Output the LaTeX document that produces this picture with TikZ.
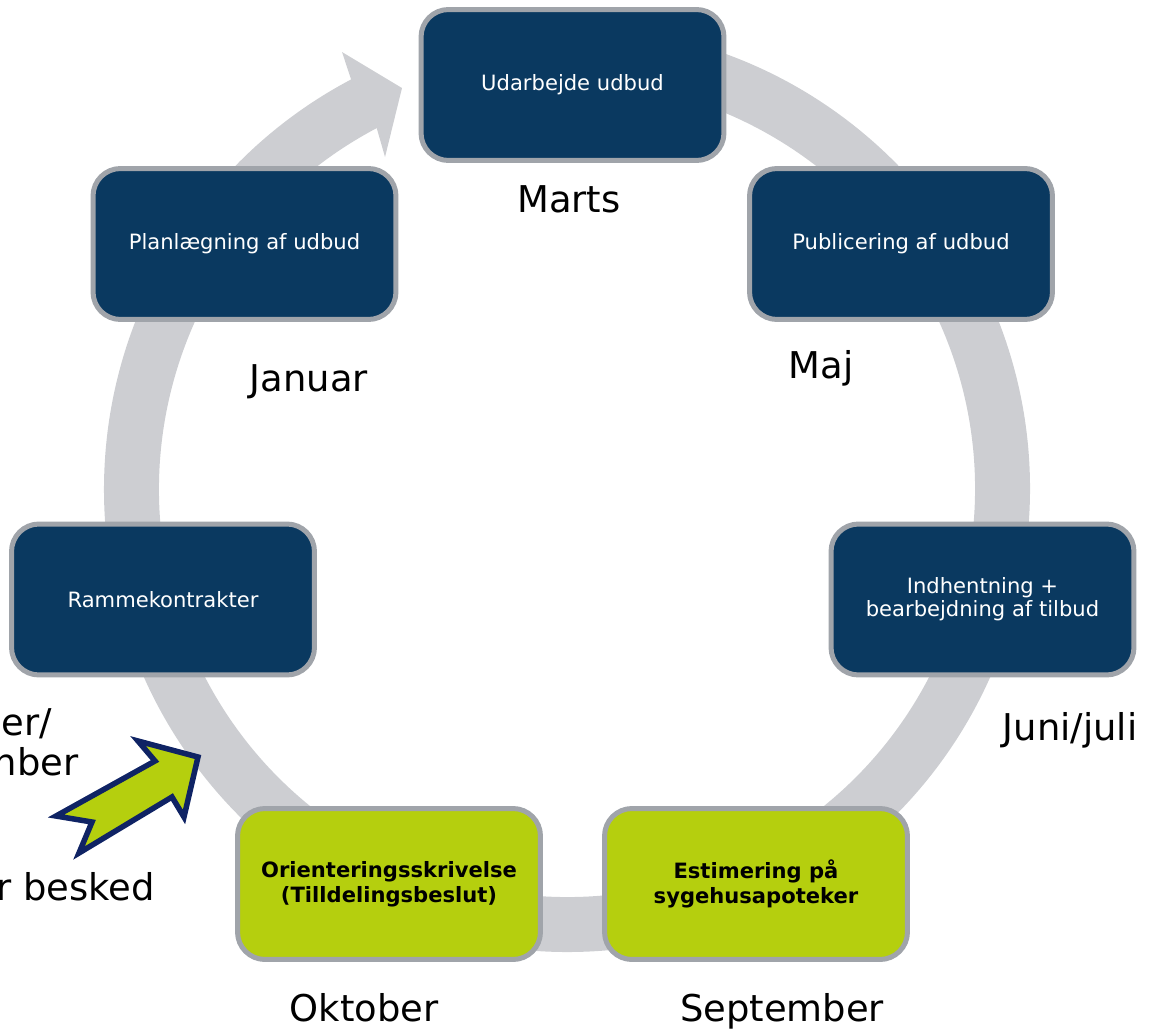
\documentclass[tikz,border=0pt]{standalone}
\usepackage{fontspec}
\setmainfont{DejaVu Sans}
\definecolor{ringgrey}{RGB}{205,206,210}
\definecolor{boxnavy}{RGB}{10,57,96}
\definecolor{boxgreen}{RGB}{181,207,14}
\definecolor{edgegrey}{RGB}{160,164,170}
\definecolor{arrownavy}{RGB}{15,35,100}
\tikzset{
  phase/.style={rectangle,rounded corners=0.55cm,draw=edgegrey,line width=0.1cm,
    minimum width=6.06cm,minimum height=3.02cm,align=center},
  navybox/.style={phase,fill=boxnavy,text=white,font=\fontsize{12}{13}\selectfont},
  greenbox/.style={phase,fill=boxgreen,text=black,font=\fontsize{12}{14}\selectfont\bfseries},
  month/.style={inner sep=0pt,font=\fontsize{21}{25}\selectfont}
}

\begin{document}
\begin{tikzpicture}[x=0.02cm,y=0.02cm]
    \useasboundingbox (0,0) rectangle (1149,-1030);
    % ring with arrow head
    \begin{scope}[shift={(567,-489)}]
      \fill[ringgrey] (85:463) arc[start angle=85,end angle=-242.2,radius=463]
        -- (117.24:491.5) -- (112.37:433.6) -- (118.73:378.6)
        -- (-242.2:408) arc[start angle=-242.2,end angle=85,radius=408] -- cycle;
    \end{scope}
    \node[navybox] (udarbejde) at (572.5,-85) {Udarbejde udbud};
    \node[navybox] (publicering) at (901,-244) {Publicering af udbud};
    \node[navybox] (indhentning) at (982.5,-599.5) {Indhentning +\\bearbejdning af tilbud};
    \node[navybox] (ramme) at (163,-599.5) {Rammekontrakter};
    \node[navybox] (planlaegning) at (244.5,-244) {Planlægning af udbud};
    \node[greenbox] (orientering) at (389,-884) {Orienteringsskrivelse\\(Tilldelingsbeslut)};
    \node[greenbox] (estimering) at (756,-884) {Estimering på\\sygehusapoteker};
    % months
    \node[month,anchor=base] (marts) at (569,-213) {Marts};
    \node[month,anchor=base] (maj) at (821,-378) {Maj};
    \node[month,anchor=base] (januar) at (309,-392) {Januar};
    \node[month,anchor=base] (junijuli) at (1070,-740) {Juni/juli};
    \node[month,anchor=base] (oktober) at (364,-1021) {Oktober};
    \node[month,anchor=base] (september) at (782,-1021) {September};
    % cut labels at the left edge
    \node[month,anchor=base east] (nov) at (52,-735) {ber/};
    \node[month,anchor=base east] (dec) at (79,-775) {nber};
    \node[month,anchor=base east] (besked) at (155,-900) {r besked};
    % green arrow
    \draw[arrownavy,line width=0.11cm,fill=boxgreen,line join=miter]
      (198,-757) -- (138,-741) -- (155,-761) -- (56,-816) -- (92,-822)
      -- (79,-853) -- (172,-797) -- (184,-817) -- cycle;
\end{tikzpicture}
\end{document}
